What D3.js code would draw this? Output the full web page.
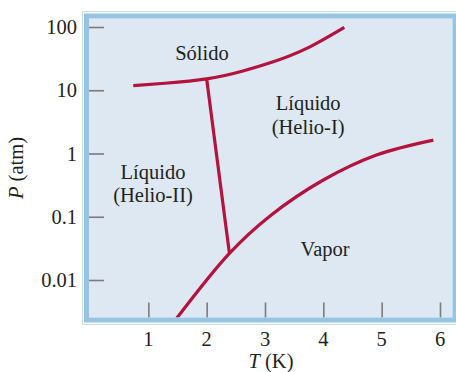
<!DOCTYPE html>
<html><head><meta charset="utf-8">
<script src="https://cdn.jsdelivr.net/npm/d3@7"></script>
<style>html,body{margin:0;padding:0;background:#fff;}svg{display:block;}</style>
</head><body>
<svg id="c" width="456" height="372"></svg>
<script>
const tempTicks = [1, 2, 3, 4, 5, 6];
const pressureTicks = [0.01, 0.1, 1, 10, 100];
const pressureTickLabels = ["0.01", "0.1", "1", "10", "100"];

// Solid / liquid boundary
const solidT = [0.742, 1.286, 2.0, 2.606, 3.142, 3.715, 4.36];
const solidP = [11.8, 12.9, 15.1, 20.0, 28.2, 45.9, 98.9];
// Lambda line (Helio-I / Helio-II)
const lambdaT = [2.0, 2.39];
const lambdaP = [15.1, 0.0264];
// Liquid / vapor boundary
const vaporT = [1.486, 2.39, 3.086, 4.0, 4.91, 5.886];
const vaporP = [0.00248, 0.0264, 0.103, 0.381, 0.946, 1.63];

const regionLabels = [
  {lines: ["Sólido"], T: 1.92, P: 30},
  {lines: ["Líquido", "(Helio-I)"], T: 3.74, P: 4.87},
  {lines: ["Líquido", "(Helio-II)"], T: 1.08, P: 0.40},
  {lines: ["Vapor"], T: 4.03, P: 0.024}
];

const svg = d3.select("#c");
const x = d3.scaleLinear().domain([0, 6]).range([90, 440]);
const y = d3.scaleLog().domain([0.01, 100]).range([280, 27]);

const L = 89, R = 452.5, T0 = 18.5, B = 317.5;
const font = "'Liberation Serif','Times New Roman',serif";
const ink = "#231f20";
const fs = 20.5;

// outer thin line
svg.append("rect").attr("x", 82.5).attr("y", 11.5).attr("width", 380).attr("height", 313)
  .attr("fill", "none").attr("stroke", "#c9ddec").attr("stroke-width", 1);
// plot background
svg.append("rect").attr("x", L).attr("y", T0).attr("width", R - L).attr("height", B - T0)
  .attr("fill", "#dde8f2");

const clip = svg.append("clipPath").attr("id", "pc");
clip.append("rect").attr("x", L).attr("y", T0).attr("width", R - L).attr("height", B - T0);

// y ticks
const yAxis = d3.axisRight(y).tickValues(pressureTicks).tickSize(15).tickFormat("");
const gy = svg.append("g").attr("transform", `translate(${L},0)`).call(yAxis);
gy.select(".domain").remove();
gy.selectAll("line").attr("stroke", "#7b7b7b").attr("stroke-width", 1.6);
svg.append("g").selectAll("text").data(pressureTicks).join("text")
  .attr("x", 77).attr("y", d => y(d) + 7)
  .attr("text-anchor", "end").attr("font-family", font).attr("font-size", fs).attr("fill", ink)
  .text((d, i) => pressureTickLabels[i]);

// x ticks
const xAxis = d3.axisTop(x).tickValues(tempTicks).tickSize(15).tickFormat("");
const gx = svg.append("g").attr("transform", `translate(0,${B})`).call(xAxis);
gx.select(".domain").remove();
gx.selectAll("line").attr("stroke", "#7b7b7b").attr("stroke-width", 1.6);
svg.append("g").selectAll("text").data(tempTicks).join("text")
  .attr("x", d => x(d)).attr("y", 346)
  .attr("text-anchor", "middle").attr("font-family", font).attr("font-size", fs).attr("fill", ink)
  .text(d => d);

// curves
const solidLine = d3.line().x(d => x(d[0])).y(d => y(d[1])).curve(d3.curveNatural);
const vaporLine = d3.line().x(d => x(d[0])).y(d => y(d[1])).curve(d3.curveCatmullRom.alpha(0.5));
const curves = svg.append("g").attr("clip-path", "url(#pc)");
const color = "#b5123e";
curves.append("path").attr("d", solidLine(d3.zip(solidT, solidP)))
  .attr("fill", "none").attr("stroke", color).attr("stroke-width", 3.2);
curves.append("path").attr("d", d3.line().x(d => x(d[0])).y(d => y(d[1]))(d3.zip(lambdaT, lambdaP)))
  .attr("fill", "none").attr("stroke", color).attr("stroke-width", 3.2);
curves.append("path").attr("d", vaporLine(d3.zip(vaporT, vaporP)))
  .attr("fill", "none").attr("stroke", color).attr("stroke-width", 3.2);

// border
svg.append("rect").attr("x", 86.5).attr("y", 16).attr("width", 368.5).attr("height", 304)
  .attr("fill", "none").attr("stroke", "#96c4e2").attr("stroke-width", 5);

// region labels
regionLabels.forEach(r => {
  const t = svg.append("text").attr("font-family", font).attr("font-size", fs).attr("fill", ink)
    .attr("text-anchor", "middle");
  r.lines.forEach((s, i) => {
    t.append("tspan").attr("x", x(r.T)).attr("y", y(r.P) + i * 23.5).text(s);
  });
});

// axis titles
const yt = svg.append("text").attr("transform", "translate(23,168) rotate(-90)")
  .attr("text-anchor", "middle").attr("font-family", font).attr("font-size", fs).attr("fill", ink);
yt.append("tspan").attr("font-style", "italic").text("P");
yt.append("tspan").text(" (atm)");

const xt = svg.append("text").attr("x", 271).attr("y", 368)
  .attr("text-anchor", "middle").attr("font-family", font).attr("font-size", fs).attr("fill", ink);
xt.append("tspan").attr("font-style", "italic").text("T");
xt.append("tspan").text(" (K)");
</script>
</body></html>
